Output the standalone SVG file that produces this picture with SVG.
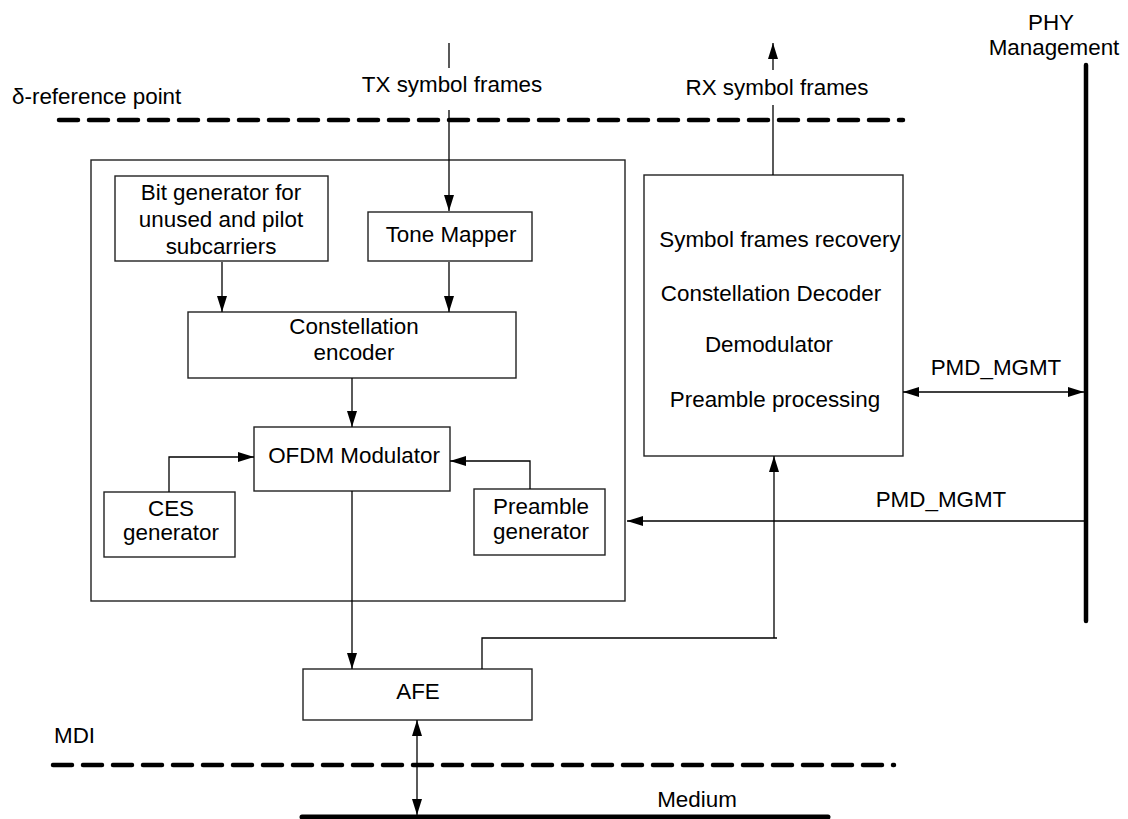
<svg xmlns="http://www.w3.org/2000/svg" width="1128" height="819" viewBox="0 0 1128 819">
<style>
text{font-family:"Liberation Sans",Arial,sans-serif;font-size:22.4px;fill:#000}
.box{fill:none;stroke:#222;stroke-width:1.4}
.ln{fill:none;stroke:#000;stroke-width:1.3}
.dash{fill:none;stroke:#000;stroke-width:4.5;stroke-dasharray:19 11;stroke-linecap:round}
.thick{fill:none;stroke:#000;stroke-width:4.5;stroke-linecap:round}
.m{text-anchor:middle}
</style>
<defs>
<marker id="ah" markerUnits="userSpaceOnUse" markerWidth="16" markerHeight="10" refX="16" refY="5" orient="auto-start-reverse">
<path d="M0,0 L16,5 L0,10 z" fill="#000"/>
</marker>
</defs>
<rect width="1128" height="819" fill="#fff"/>

<g id="reference-lines">
<text x="12" y="104">δ-reference point</text>
<line class="dash" x1="59" y1="120" x2="903" y2="120"/>
<text x="54" y="743">MDI</text>
<line class="dash" x1="53" y1="765" x2="894" y2="765"/>
<line x1="302" y1="817" x2="828" y2="817" stroke="#000" stroke-width="5" stroke-linecap="round"/>
<text x="697" y="807" class="m">Medium</text>
<text x="1051" y="30" class="m">PHY</text>
<text x="1054" y="55" class="m">Management</text>
<line class="thick" x1="1086" y1="65" x2="1086" y2="621"/>
<text x="452" y="92" class="m">TX symbol frames</text>
<text x="777" y="95" class="m">RX symbol frames</text>
</g>

<g id="tx-block"><rect class="box" x="91" y="160" width="534" height="441"/></g>
<g id="bit-generator">
<rect class="box" x="115" y="176" width="213" height="85"/>
<text x="221" y="200" class="m">Bit generator for</text>
<text x="221" y="227" class="m">unused and pilot</text>
<text x="221" y="254" class="m">subcarriers</text>
</g>
<g id="tone-mapper">
<rect class="box" x="368" y="212" width="164" height="49"/>
<text x="451" y="242" class="m">Tone Mapper</text>
</g>
<g id="constellation-encoder">
<rect class="box" x="188" y="312" width="328" height="66"/>
<text x="354" y="334" class="m">Constellation</text>
<text x="354" y="360" class="m">encoder</text>
</g>
<g id="ofdm-modulator">
<rect class="box" x="254" y="427" width="196" height="64"/>
<text x="354" y="463" class="m">OFDM Modulator</text>
</g>
<g id="ces-generator">
<rect class="box" x="104" y="492" width="131" height="65"/>
<text x="171" y="516" class="m">CES</text>
<text x="171" y="540" class="m">generator</text>
</g>
<g id="preamble-generator">
<rect class="box" x="474" y="489" width="131" height="66"/>
<text x="541" y="514" class="m">Preamble</text>
<text x="541" y="539" class="m">generator</text>
</g>
<g id="rx-block">
<rect class="box" x="644" y="175" width="259" height="281"/>
<text x="780" y="247" class="m">Symbol frames recovery</text>
<text x="771" y="301" class="m">Constellation Decoder</text>
<text x="769" y="352" class="m">Demodulator</text>
<text x="775" y="407" class="m">Preamble processing</text>
</g>
<g id="afe">
<rect class="box" x="303" y="669" width="229" height="51"/>
<text x="418" y="699" class="m">AFE</text>
</g>

<g id="connectors">
<line class="ln" x1="449" y1="43" x2="449" y2="68"/>
<line class="ln" x1="449" y1="110" x2="449" y2="211" marker-end="url(#ah)"/>
<line class="ln" x1="773" y1="175" x2="773" y2="105"/>
<line class="ln" x1="773" y1="70" x2="773" y2="43" marker-end="url(#ah)"/>
<line class="ln" x1="222" y1="262" x2="222" y2="312" marker-end="url(#ah)"/>
<line class="ln" x1="449" y1="262" x2="449" y2="312" marker-end="url(#ah)"/>
<line class="ln" x1="352" y1="378" x2="352" y2="427" marker-end="url(#ah)"/>
<polyline class="ln" points="169,492 169,457 254,457" marker-end="url(#ah)"/>
<polyline class="ln" points="530,489 530,461 450,461" marker-end="url(#ah)"/>
<line class="ln" x1="352" y1="491" x2="352" y2="669" marker-end="url(#ah)"/>
<polyline class="ln" points="482,669 482,638 777,638"/>
<line class="ln" x1="774" y1="638" x2="774" y2="456" marker-end="url(#ah)"/>
<line class="ln" x1="903" y1="392" x2="1084" y2="392" marker-start="url(#ah)" marker-end="url(#ah)"/>
<text x="996" y="375" class="m">PMD_MGMT</text>
<line class="ln" x1="1086" y1="521" x2="627" y2="521" marker-end="url(#ah)"/>
<text x="941" y="507" class="m">PMD_MGMT</text>
<line class="ln" x1="417" y1="720" x2="417" y2="815" marker-start="url(#ah)" marker-end="url(#ah)"/>
</g>
</svg>
